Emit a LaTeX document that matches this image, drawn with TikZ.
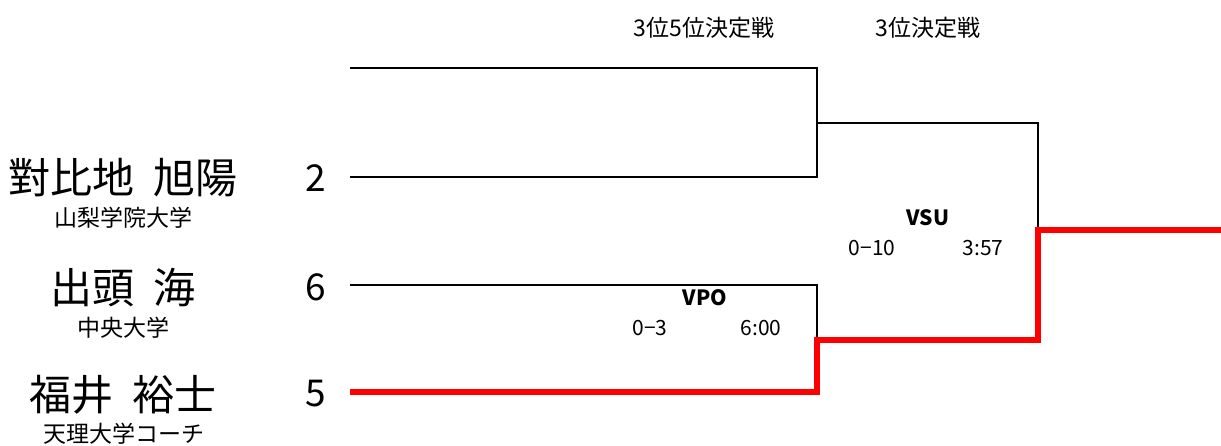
\documentclass[tikz,border=0pt]{standalone}
\usepackage{fontspec}
\setmainfont{Noto Sans CJK JP}[WordSpace=2]
\usetikzlibrary{positioning}

\begin{document}
\begin{tikzpicture}[x=1pt,y=-1pt,
  player/.style={font=\fontsize{42}{42}\selectfont},
  team/.style={font=\fontsize{23}{23}\selectfont},
  seed/.style={font=\fontsize{37}{37}\selectfont},
  round/.style={font=\fontsize{23}{23}\selectfont},
  bout/.style={font=\bfseries\fontsize{21}{21}\selectfont},
  score/.style={font=\fontsize{21}{21}\selectfont},
  lose/.style={black,line width=2.5pt},
  win/.style={red,line width=5.5pt}]
\useasboundingbox (0,0) rectangle (1221,446);
% round titles
\node[round] (r1) at (704,28) {3位5位決定戦};
\node[round] (r2) at (928,28) {3位決定戦};
% players
\node[player] (p2) at (123,178) {對比地 旭陽};
\node[team] (u2) at (123,218) {山梨学院大学};
\node[player] (p6) at (123,288) {出頭 海};
\node[team] (u6) at (123,328) {中央大学};
\node[player] (p5) at (123,395) {福井 裕士};
\node[team] (u5) at (124,434) {天理大学コーチ};
\node[seed] (s2) at (316,178) {2};
\node[seed] (s6) at (316,287) {6};
\node[seed] (s5) at (316,394) {5};
% bracket points
\coordinate (t0) at (350,68);
\coordinate (t2) at (350,177);
\coordinate (t6) at (350,285);
\coordinate (t5) at (350,392);
\coordinate (m1) at (817,123);
\coordinate (m2) at (817,340);
\coordinate (f) at (1038,230);
\coordinate (w) at (1221,230);
\draw[lose] (t0) -| (m1);
\draw[lose] (t2) -| (m1);
\draw[lose] (t6) -| (m2);
\draw[lose] (m1) -| (f);
\draw[win] (t5) -| (m2) -| (f) -- (w);
% results
\node[bout] (b1) at (705,298) {VPO};
\node[score] (b1s) at (650,328) {0−3};
\node[score] (b1t) at (761,328) {6:00};
\node[bout] (b2) at (928,218) {VSU};
\node[score] (b2s) at (872,248) {0−10};
\node[score] (b2t) at (983,248) {3:57};
\end{tikzpicture}
\end{document}
